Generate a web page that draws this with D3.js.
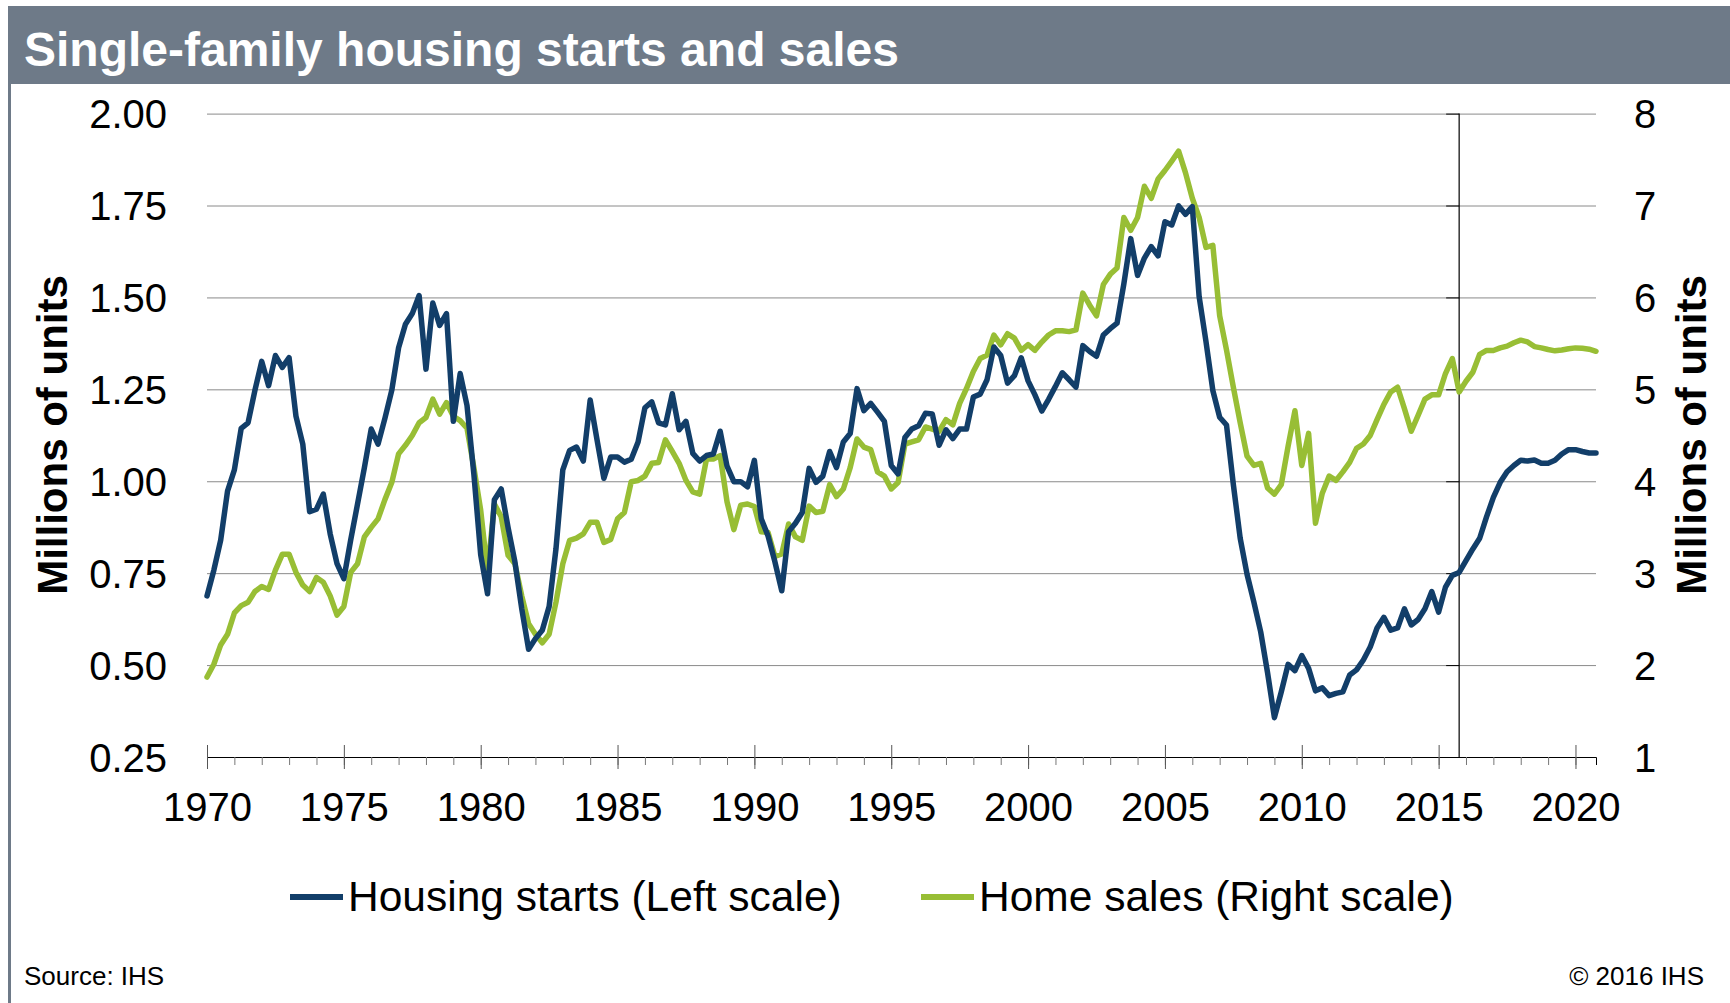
<!DOCTYPE html>
<html>
<head>
<meta charset="utf-8">
<script src="https://cdn.jsdelivr.net/npm/d3@7"></script>
<style>
  body { margin: 0; background: #fff; }
  svg text { font-family: "Liberation Sans", Arial, sans-serif; }
</style>
</head>
<body>
<div id="chart"></div>
<script>
// quarterly data 1970Q1 - 2020Q4
var startYear = 1970;
var yearLabels = [1970, 1975, 1980, 1985, 1990, 1995, 2000, 2005, 2010, 2015, 2020];

// housing starts, millions (left scale)
var housingStarts = [
  0.688, 0.758, 0.840, 0.973,  1.031, 1.144, 1.159, 1.247,  1.326, 1.260, 1.342, 1.310,
  1.336, 1.177, 1.101, 0.917,  0.924, 0.965, 0.857, 0.776,  0.735, 0.840, 0.938, 1.037,
  1.142, 1.101, 1.171, 1.247,  1.363, 1.427, 1.456, 1.505,  1.305, 1.485, 1.424, 1.456,
  1.163, 1.293, 1.206, 1.020,  0.800, 0.694, 0.950, 0.979,  0.874, 0.781, 0.653, 0.543,
  0.572, 0.595, 0.659, 0.816,  1.031, 1.084, 1.093, 1.055,  1.221, 1.113, 1.008, 1.066,
  1.066, 1.052, 1.060, 1.107,  1.200, 1.216, 1.159, 1.153,  1.238, 1.140, 1.163, 1.076,
  1.055, 1.070, 1.074, 1.136,  1.041, 0.999, 0.999, 0.985,  1.057, 0.898, 0.851, 0.781,
  0.702, 0.863, 0.886, 0.915,  1.035, 0.997, 1.014, 1.081,  1.037, 1.107, 1.130, 1.252,
  1.192, 1.212, 1.188, 1.163,  1.043, 1.020, 1.119, 1.142,  1.151, 1.185, 1.183, 1.098,
  1.140, 1.116, 1.142, 1.142,  1.229, 1.237, 1.276, 1.365,  1.342, 1.267, 1.287, 1.336,
  1.273, 1.235, 1.191, 1.223,  1.258, 1.295, 1.276, 1.256,  1.369, 1.353, 1.340, 1.398,
  1.415, 1.430, 1.537, 1.660,  1.560, 1.607, 1.638, 1.613,  1.706, 1.697, 1.749, 1.726,
  1.747, 1.502, 1.380, 1.247,  1.174, 1.153, 0.991, 0.845,  0.747, 0.671, 0.590, 0.479,
  0.357, 0.427, 0.502, 0.485,  0.526, 0.491, 0.430, 0.438,  0.417, 0.423, 0.427, 0.473,
  0.487, 0.514, 0.549, 0.601,  0.630, 0.595, 0.601, 0.653,  0.609, 0.624, 0.653, 0.700,
  0.644, 0.712, 0.744, 0.752,  0.784, 0.816, 0.845, 0.903,  0.956, 0.997, 1.026, 1.043,
  1.057, 1.055, 1.058, 1.049,  1.049, 1.057, 1.074, 1.086,  1.086, 1.081, 1.077, 1.077
];

// home sales, millions (right scale)
var homeSales = [
  1.870, 2.009, 2.219, 2.335,  2.567, 2.647, 2.684, 2.800,  2.856, 2.823, 3.033, 3.205,
  3.205, 3.009, 2.870, 2.800,  2.953, 2.902, 2.753, 2.544,  2.637, 3.009, 3.102, 3.395,
  3.498, 3.591, 3.800, 3.986,  4.298, 4.391, 4.498, 4.637,  4.693, 4.893, 4.730, 4.856,
  4.707, 4.660, 4.577, 4.149,  3.684, 3.009, 3.753, 3.614,  3.195, 3.102, 2.753, 2.451,
  2.335, 2.242, 2.335, 2.684,  3.102, 3.358, 3.381, 3.428,  3.553, 3.553, 3.335, 3.367,
  3.591, 3.660, 3.995, 4.009,  4.056, 4.195, 4.205, 4.451,  4.326, 4.195, 4.009, 3.884,
  3.860, 4.242, 4.242, 4.279,  3.777, 3.474, 3.740, 3.753,  3.725, 3.451, 3.442, 3.181,
  3.209, 3.535, 3.395, 3.358,  3.730, 3.660, 3.674, 3.963,  3.833, 3.916, 4.149, 4.460,
  4.372, 4.344, 4.102, 4.056,  3.916, 3.986, 4.405, 4.428,  4.451, 4.591, 4.567, 4.544,
  4.670, 4.614, 4.847, 5.009,  5.195, 5.335, 5.372, 5.591,  5.484, 5.605, 5.558, 5.425,
  5.486, 5.424, 5.514, 5.591,  5.637, 5.637, 5.628, 5.647,  6.047, 5.916, 5.800, 6.140,
  6.251, 6.321, 6.870, 6.730,  6.870, 7.209, 7.079, 7.288,  7.381, 7.484, 7.591, 7.358,
  7.079, 6.870, 6.544, 6.567,  5.800, 5.428, 5.023, 4.637,  4.274, 4.172, 4.195, 3.926,
  3.860, 3.963, 4.381, 4.767,  4.172, 4.521, 3.544, 3.870,  4.056, 4.009, 4.102, 4.205,
  4.358, 4.405, 4.498, 4.670,  4.837, 4.972, 5.023, 4.791,  4.544, 4.716, 4.893, 4.940,
  4.940, 5.172, 5.335, 4.972,  5.088, 5.186, 5.381, 5.423,  5.423, 5.451, 5.470, 5.507,
  5.535, 5.516, 5.465, 5.451,  5.433, 5.419, 5.428, 5.442,  5.451, 5.447, 5.437, 5.414
];

var leftTicks = [0.25, 0.50, 0.75, 1.00, 1.25, 1.50, 1.75, 2.00];
var rightTicks = [1, 2, 3, 4, 5, 6, 7, 8];
var forecastStart = 2015.75;

var W = 1730, H = 1003;
var plotL = 207, plotR = 1596, plotT = 113.6, plotB = 757;
var blue = "#123e69", green = "#98be35", headerGray = "#6e7a88";

var svg = d3.select("#chart").append("svg")
  .attr("width", W).attr("height", H);

// header band + left border
svg.append("rect").attr("x", 8).attr("y", 6).attr("width", W - 8).attr("height", 78)
  .attr("fill", headerGray);
svg.append("rect").attr("x", 8).attr("y", 84).attr("width", 3).attr("height", H - 84)
  .attr("fill", headerGray);
svg.append("text").attr("x", 24).attr("y", 66)
  .attr("fill", "#fff").attr("font-size", 48).attr("font-weight", "bold")
  .text("Single-family housing starts and sales");

var qDates = housingStarts.map(function(d, i) { return startYear + i / 4; });

var x = d3.scaleLinear().domain([1970, 2020.75]).range([plotL, plotR]);
var yL = d3.scaleLinear().domain([0.25, 2.0]).range([plotB, plotT]);
var yR = d3.scaleLinear().domain([1, 8]).range([plotB, plotT]);

// gridlines
svg.append("g")
  .attr("transform", "translate(" + plotL + ",0)")
  .call(d3.axisLeft(yL).tickValues(leftTicks.slice(1)).tickSize(-(plotR - plotL)).tickFormat(""))
  .call(function(g) { g.select(".domain").remove(); })
  .selectAll("line").attr("stroke", "#8a8a8a").attr("stroke-width", 1);

// left labels
svg.append("g")
  .attr("transform", "translate(" + (plotL - 40) + ",0)")
  .call(d3.axisLeft(yL).tickValues(leftTicks).tickSize(0).tickFormat(d3.format(".2f")))
  .call(function(g) { g.select(".domain").remove(); })
  .selectAll("text").attr("font-size", 40).attr("fill", "#000").attr("dy", "0.35em").attr("x", 0);

// right labels
svg.append("g")
  .attr("transform", "translate(" + (plotR + 38) + ",0)")
  .call(d3.axisRight(yR).tickValues(rightTicks).tickSize(0).tickFormat(d3.format("d")))
  .call(function(g) { g.select(".domain").remove(); })
  .selectAll("text").attr("font-size", 40).attr("fill", "#000").attr("dy", "0.35em").attr("x", 0);

// x axis: minor ticks every year
svg.append("g")
  .attr("transform", "translate(0," + plotB + ")")
  .call(d3.axisBottom(x).tickValues(d3.range(1970, 2021)).tickSize(8).tickFormat(""))
  .call(function(g) { g.select(".domain").attr("stroke", "#000"); })
  .selectAll("line").attr("stroke", "#777");

// major ticks + labels
var xMaj = svg.append("g")
  .attr("transform", "translate(0," + plotB + ")")
  .call(d3.axisBottom(x).tickValues(yearLabels).tickSize(12).tickPadding(24).tickFormat(d3.format("d")));
xMaj.select(".domain").remove();
xMaj.selectAll("line").attr("y1", -12).attr("stroke", "#555");
xMaj.selectAll("text").attr("font-size", 40).attr("fill", "#000");

// forecast divider
svg.append("line")
  .attr("x1", x(forecastStart)).attr("x2", x(forecastStart))
  .attr("y1", plotT).attr("y2", plotB)
  .attr("stroke", "#000").attr("stroke-width", 1.2);
svg.append("g")
  .attr("transform", "translate(" + x(forecastStart) + ",0)")
  .call(d3.axisLeft(yL).tickValues(leftTicks).tickSize(13).tickFormat(""))
  .call(function(g) { g.select(".domain").remove(); })
  .selectAll("line").attr("stroke", "#000");

// lines
var lineL = d3.line().x(function(d, i) { return x(qDates[i]); }).y(function(d) { return yL(d); });
var lineR = d3.line().x(function(d, i) { return x(qDates[i]); }).y(function(d) { return yR(d); });

svg.append("path").datum(homeSales)
  .attr("d", lineR).attr("fill", "none").attr("stroke", green)
  .attr("stroke-width", 5.5).attr("stroke-linejoin", "round").attr("stroke-linecap", "round");
svg.append("path").datum(housingStarts)
  .attr("d", lineL).attr("fill", "none").attr("stroke", blue)
  .attr("stroke-width", 5.5).attr("stroke-linejoin", "round").attr("stroke-linecap", "round");

// axis titles
svg.append("text")
  .attr("transform", "translate(67,435) rotate(-90)")
  .attr("text-anchor", "middle").attr("font-size", 42).attr("font-weight", "bold")
  .text("Millions of units");
svg.append("text")
  .attr("transform", "translate(1706,435) rotate(-90)")
  .attr("text-anchor", "middle").attr("font-size", 42).attr("font-weight", "bold")
  .text("Millions of units");

// legend
var legend = [
  { name: "Housing starts (Left scale)", color: blue, x: 290 },
  { name: "Home sales (Right scale)", color: green, x: 921 }
];
legend.forEach(function(l) {
  svg.append("line").attr("x1", l.x).attr("x2", l.x + 53).attr("y1", 897).attr("y2", 897)
    .attr("stroke", l.color).attr("stroke-width", 6);
  svg.append("text").attr("x", l.x + 58).attr("y", 911)
    .attr("font-size", 42.5).text(l.name);
});

// footer
svg.append("text").attr("x", 24).attr("y", 985).attr("font-size", 26).text("Source: IHS");
svg.append("text").attr("x", 1704).attr("y", 985).attr("font-size", 26)
  .attr("text-anchor", "end").text("\u00a9 2016 IHS");
</script>
</body>
</html>
